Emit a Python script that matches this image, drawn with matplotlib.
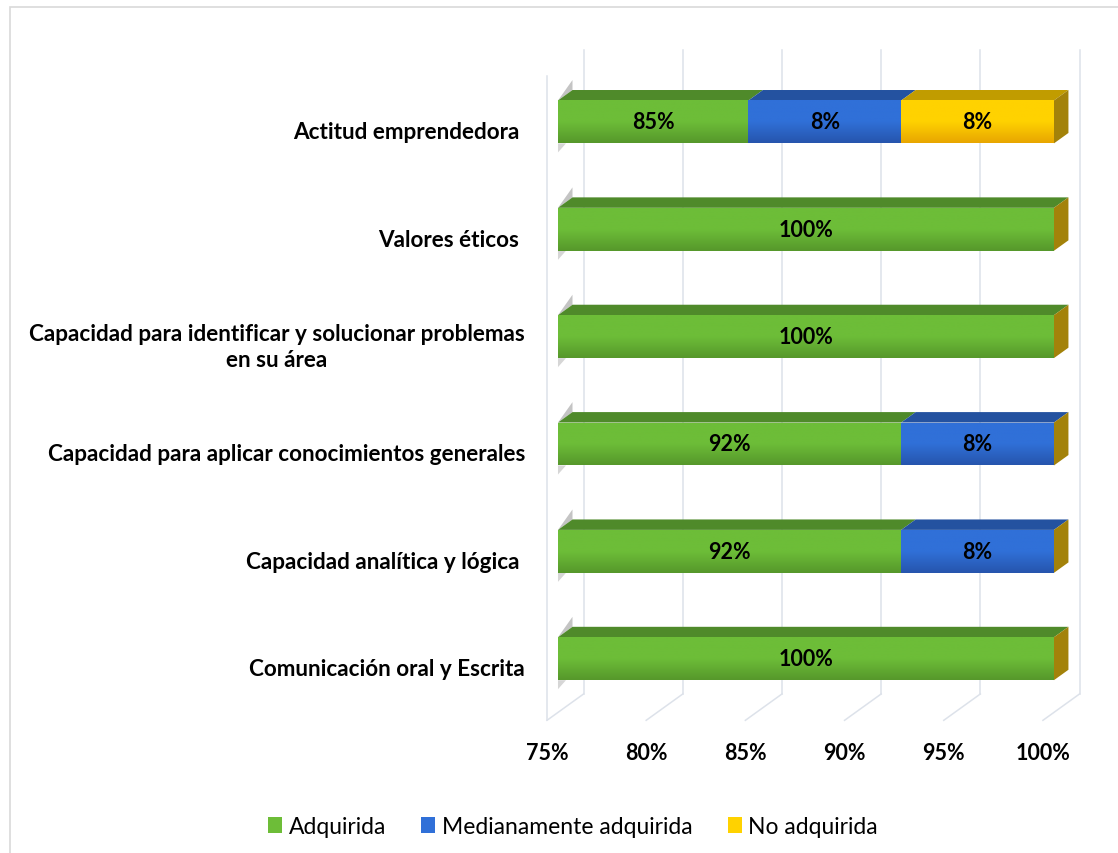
import numpy as np
import matplotlib
matplotlib.use("Agg")
import matplotlib.pyplot as plt
import matplotlib.patches as mpatches
from matplotlib.colors import LinearSegmentedColormap

plt.rcParams['font.family'] = ['Lato', 'DejaVu Sans']

# datos (de abajo hacia arriba)
categorias = ["Comunicación oral y Escrita",
              "Capacidad analítica y lógica ",
              "Capacidad para aplicar conocimientos generales",
              "Capacidad para identificar y solucionar problemas\nen su área",
              "Valores éticos ",
              "Actitud emprendedora "]
adquirida = [100, 92.3, 92.3, 100, 100, 84.6]
medianamente = [0, 7.7, 7.7, 0, 0, 7.7]
no_adquirida = [0, 0, 0, 0, 0, 7.7]
series_nombres = ["Adquirida", "Medianamente adquirida", "No adquirida"]
x_ticks = [75, 80, 85, 90, 95, 100]

# colores: (arriba del frente, abajo del frente, cara superior)
colores = [("#6dbd38", "#56982b", "#4f8a2a"),
           ("#3070d8", "#2655ad", "#2452a0"),
           ("#ffd200", "#e8a600", "#c19c00")]
lateral = "#a3820a"
grid_col = "#dde2ea"

fig = plt.figure(figsize=(11.18, 8.54), dpi=100)
ax_bottom = (854 - 713.4) / 854
ax_height = 6 * 107.36 / 854
ax = fig.add_axes([0.4991, ax_bottom, 0.4436, ax_height])
ax.set_xlim(75, 100)
ax.set_ylim(-0.5, 5.5)
ax.axis('off')

# pixeles por unidad de datos, para el efecto 3D
PX_X = 0.4436 * 1118 / 25
PX_Y = ax_height * 854 / 6


def P(x, y, d):
    # punto desplazado d pixeles en profundidad
    return (x + d / PX_X, y + d * 0.72 / PX_Y)


# lineas de cuadricula (pared del fondo y piso)
for t in x_ticks:
    b0 = P(t, -0.5, 25.6)
    b1 = P(t, 5.5, 25.6)
    f0 = P(t, -0.5, -11)
    ax.plot([b0[0], b1[0]], [b0[1], b1[1]], color=grid_col, lw=1.1, clip_on=False, zorder=1)
    ax.plot([b0[0], f0[0]], [b0[1], f0[1]], color=grid_col, lw=1.1, clip_on=False, zorder=1)
w0 = P(75, -0.5, -11)
w1 = P(75, 5.5, -11)
ax.plot([w0[0], w1[0]], [w0[1], w1[1]], color=grid_col, lw=1.1, clip_on=False, zorder=1)

h = 0.4
prof = 14.5
valores = [adquirida, medianamente, no_adquirida]
for i in range(len(categorias)):
    acum = 0
    for s, serie in enumerate(valores):
        v = serie[i]
        if v == 0:
            continue
        l = max(acum, 75)
        r = acum + v
        acum = r
        c_top, c_bot, c_face = colores[s]
        bar = ax.barh(i, r - l, left=l, height=h, color=c_bot, zorder=3, clip_on=False)[0]
        cmap = LinearSegmentedColormap.from_list("g", [c_bot, c_top, c_top])
        im = ax.imshow(np.linspace(0, 1, 64).reshape(-1, 1), extent=[l, r, i - h / 2, i + h / 2],
                       origin='lower', aspect='auto', cmap=cmap, zorder=3.1)
        im.set_clip_path(bar)
        cara = mpatches.Polygon([P(l, i + h / 2, 0), P(r, i + h / 2, 0),
                                 P(r, i + h / 2, prof), P(l, i + h / 2, prof)],
                                closed=True, facecolor=c_face, edgecolor='none', zorder=3, clip_on=False)
        ax.add_patch(cara)
        ax.text((l + r) / 2, i, f"{v:.0f}%", ha='center', va='center',
                fontsize=15.5, fontweight='bold', color='black', zorder=5)
    # cara lateral derecha
    lado = mpatches.Polygon([P(acum, i - h / 2, 0), P(acum, i + h / 2, 0),
                             P(acum, i + h / 2, prof), P(acum, i - h / 2, prof)],
                            closed=True, facecolor=lateral, edgecolor='none', zorder=3, clip_on=False)
    ax.add_patch(lado)
    # sombras grises del extremo izquierdo
    a = P(75, i + h / 2, 0)
    b = P(75, i + h / 2, prof)
    c = (b[0], b[1] + 10 / PX_Y)
    ax.add_patch(mpatches.Polygon([a, b, c], closed=True, facecolor="#c4c4c4",
                                  edgecolor='none', zorder=2, clip_on=False))
    d0 = (75, i - h / 2)
    ax.add_patch(mpatches.Polygon([d0, (75 + 8 / PX_X, i - h / 2), (75, i - h / 2 - 9 / PX_Y)],
                                  closed=True, facecolor="#d6d6d6", edgecolor='none', zorder=2, clip_on=False))
    # etiqueta de categoria
    ax.annotate(categorias[i], xy=P(75, i, -11), xytext=(-22, -2), textcoords='offset pixels',
                ha='right', va='center', multialignment='center', linespacing=1.3,
                fontsize=16.2, fontweight='bold', color='black', annotation_clip=False)

for t in x_ticks:
    ax.annotate(f"{t}%", xy=P(t, -0.5, -11), xytext=(0, -32), textcoords='offset pixels',
                ha='center', va='center', fontsize=15.5, fontweight='bold', color='black',
                annotation_clip=False)

ax.set_xlim(75, 100)
ax.set_ylim(-0.5, 5.5)

handles = [mpatches.Patch(facecolor=colores[k][0], label=series_nombres[k]) for k in range(3)]
fig.legend(handles=handles, loc='center', bbox_to_anchor=(0.5125, 0.031), ncol=3, frameon=False,
           handlelength=0.6, handleheight=0.7, handletextpad=0.28, columnspacing=1.55, fontsize=16.5)

fig.add_artist(mpatches.Rectangle((9.6 / 1118, -0.02), 1.1, 1.02 - 7.5 / 854, transform=fig.transFigure,
                                  fill=False, edgecolor='#d9d9d9', lw=1.2))

fig.savefig("out.png", dpi=100)
